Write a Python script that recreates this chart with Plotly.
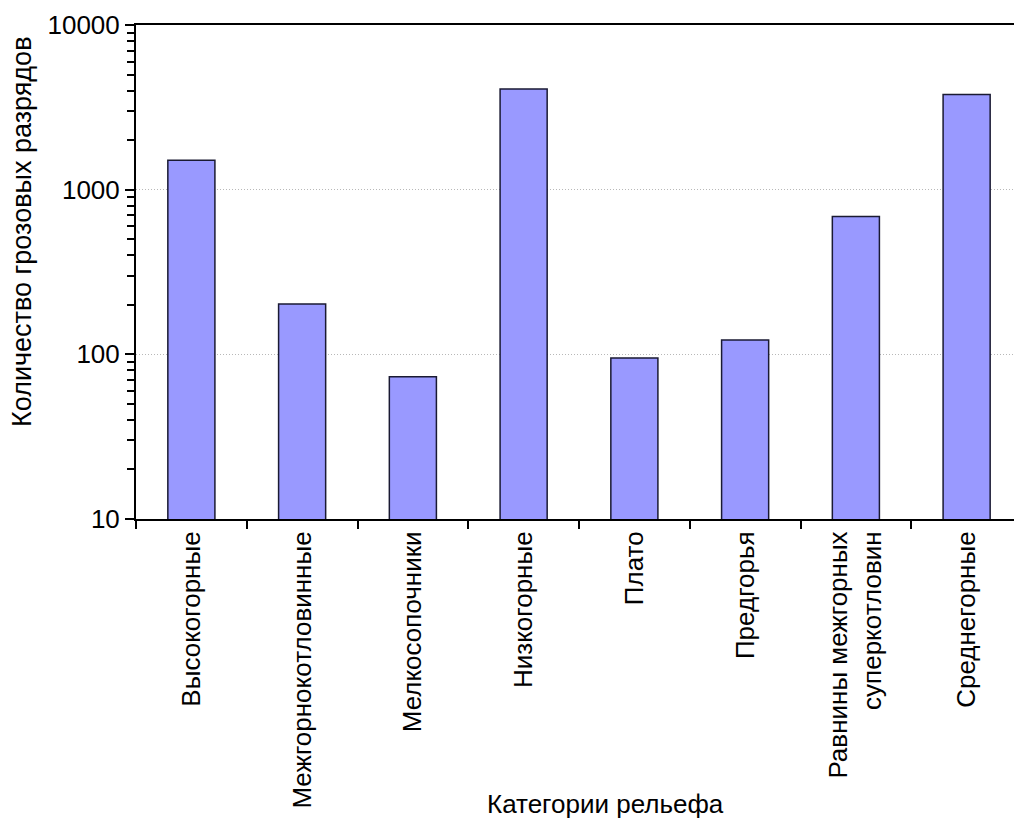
import plotly.graph_objects as go

categories = ["Высокогорные", "Межгорнокотловинные", "Мелкосопочники", "Низкогорные",
              "Плато", "Предгорья", "Равнины межгорных<br>суперкотловин", "Среднегорные"]
values = [1510, 202, 73, 4090, 95, 122, 688, 3780]
y_ticks = [10, 100, 1000, 10000]
y_tick_labels = ["10", "100", "1000", "10000"]

FONT = "Liberation Sans, Arial, sans-serif"

# page body has an 8px default margin; figure sized to fit the window
fig = go.Figure(go.Bar(
    x=categories, y=values, width=0.425,
    marker=dict(color="#9999FF", line=dict(color="#1a1a33", width=1.5)),
))

fig.update_layout(
    width=1014, height=813,
    margin=dict(l=128, r=0, t=17, b=302),
    paper_bgcolor="white", plot_bgcolor="white",
    showlegend=False,
    font=dict(family=FONT, size=25, color="black"),
    xaxis=dict(
        type="category", showline=True, linecolor="black", linewidth=2, mirror=True,
        ticks="outside", ticklen=8, tickwidth=1.5, tickcolor="black", tickson="boundaries",
        tickangle=-90, tickfont=dict(size=26), showgrid=False, range=[-0.5, 7.5],
        automargin=False,
    ),
    yaxis=dict(
        type="log", range=[1, 4], showline=True, linecolor="black", linewidth=2,
        ticks="outside", ticklen=9, tickwidth=1.5, tickcolor="black",
        tickvals=y_ticks, ticktext=y_tick_labels, tickfont=dict(size=26),
        showgrid=True, gridcolor="#b8b8b8", griddash="1px,2px", gridwidth=1,
        minor=dict(ticks="outside", ticklen=7, tickwidth=1.5, tickcolor="black",
                   dtick="D1", showgrid=False),
        zeroline=False, automargin=False,
    ),
)

fig.add_annotation(text="Количество грозовых разрядов", textangle=-90,
                   xref="paper", yref="paper", x=-(136 - 22) / 886, y=(519 - 232) / 494,
                   xanchor="center", yanchor="middle", showarrow=False,
                   font=dict(size=27, family=FONT))
fig.add_annotation(text="Категории рельефа",
                   xref="paper", yref="paper", x=(605 - 136) / 886, y=-(804 - 519) / 494,
                   xanchor="center", yanchor="middle", showarrow=False,
                   font=dict(size=26, family=FONT))

fig.write_html("out.html")
